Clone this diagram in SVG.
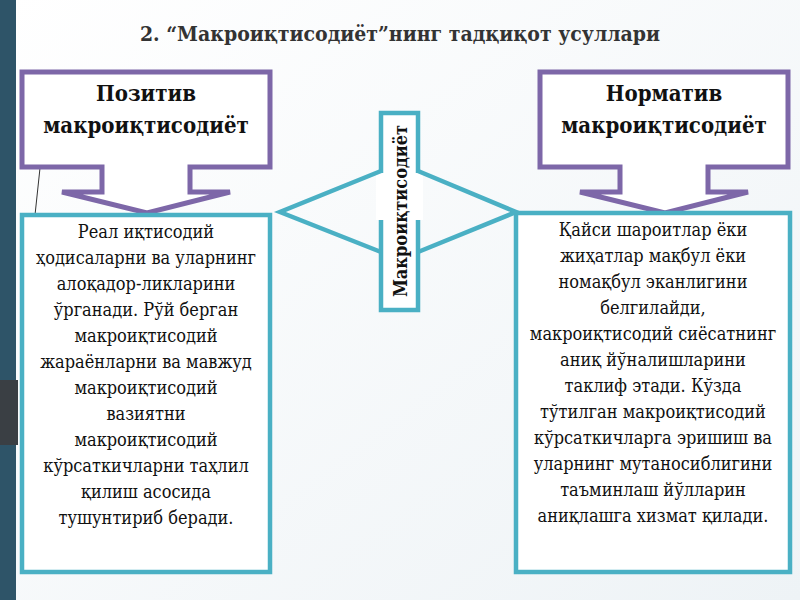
<svg xmlns="http://www.w3.org/2000/svg" width="800" height="600" viewBox="0 0 800 600">
<defs>
<linearGradient id="bg" x1="0" y1="0" x2="1" y2="1"><stop offset="0" stop-color="#ffffff"/><stop offset="1" stop-color="#eef3f6"/></linearGradient>
<style>
text{font-family:"DejaVu Serif Condensed","DejaVu Serif",serif}
.pu{fill:#fff;stroke:#7d67a8;stroke-width:5}
.te{fill:#fff;stroke:#4ab0c4;stroke-width:4.5}
.h{font-weight:bold;font-size:22px;fill:#111;text-anchor:middle}
.b{font-size:18px;fill:#111;text-anchor:middle}
</style>
</defs>
<rect width="800" height="600" fill="url(#bg)"/>
<rect x="0" y="0" width="16" height="600" fill="#2e5468"/>
<rect x="0" y="380" width="18" height="65" fill="#3a3f44"/>
<line x1="40" y1="168" x2="35" y2="215" stroke="#333" stroke-width="1"/>
<text x="400" y="41" class="h" style="font-size:21px;fill:#333">2. “Макроиқтисодиёт”нинг тадқиқот усуллари</text>
<g id="pozitiv">
<path class="pu" d="M22,72 H270 V167 H190 V192 H230 L147,213 L62,192 H102 V167 H22 Z"/>
<text x="146" y="101" class="h">Позитив</text>
<text x="146" y="133" class="h">макроиқтисодиёт</text>
</g>
<g id="normativ">
<path class="pu" d="M540,72 H788 V167 H708 V192 H748 L665,213 L580,192 H620 V167 H540 Z"/>
<text x="664" y="101" class="h">Норматив</text>
<text x="664" y="133" class="h">макроиқтисодиёт</text>
</g>
<g id="pozitiv-text">
<rect class="te" x="22" y="215" width="248" height="357"/>
<g class="b">
<text x="146" y="238">Реал иқтисодий</text>
<text x="146" y="264">ҳодисаларни ва уларнинг</text>
<text x="146" y="290">алоқадор-ликларини</text>
<text x="146" y="316">ўрганади. Рўй берган</text>
<text x="146" y="342">макроиқтисодий</text>
<text x="146" y="368">жараёнларни ва мавжуд</text>
<text x="146" y="394">макроиқтисодий</text>
<text x="146" y="420">вазиятни</text>
<text x="146" y="446">макроиқтисодий</text>
<text x="146" y="472">кўрсаткичларни таҳлил</text>
<text x="146" y="498">қилиш асосида</text>
<text x="146" y="524">тушунтириб беради.</text>
</g>
</g>
<g id="normativ-text">
<rect class="te" x="516" y="213" width="274" height="359"/>
<g class="b">
<text x="653" y="236">Қайси шароитлар  ёки</text>
<text x="653" y="262">жиҳатлар мақбул ёки</text>
<text x="653" y="288">номақбул  эканлигини</text>
<text x="653" y="314">белгилайди,</text>
<text x="653" y="340">макроиқтисодий сиёсатнинг</text>
<text x="653" y="366">аниқ йўналишларини</text>
<text x="653" y="392">таклиф этади.  Кўзда</text>
<text x="653" y="418">тўтилган макроиқтисодий</text>
<text x="653" y="444">кўрсаткичларга эришиш ва</text>
<text x="653" y="470">уларнинг мутаносиблигини</text>
<text x="653" y="496">таъминлаш йўлларин</text>
<text x="653" y="522">аниқлашга хизмат қилади.</text>
</g>
</g>
<g id="connectors">
<rect class="te" x="381" y="113" width="37" height="197"/>
<rect x="376" y="173" width="47" height="47" fill="#fff"/>
<polyline fill="none" stroke="#4ab0c4" stroke-width="4.5" points="381,171 280,212 381,252"/>
<polyline fill="none" stroke="#4ab0c4" stroke-width="4.5" points="418,171 516,212 418,252"/>
</g>
<g id="center">
<text transform="translate(407,211) rotate(-90)" class="h" style="font-size:18px">Макроиқтисодиёт</text>
</g>
</svg>
